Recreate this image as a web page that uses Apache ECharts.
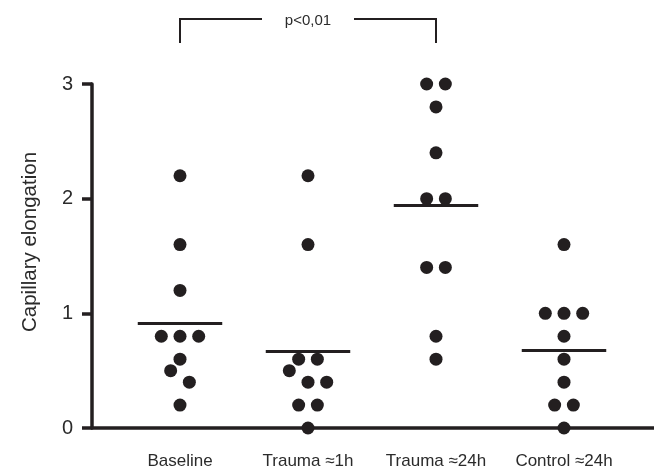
<!DOCTYPE html>
<html>
<head>
<meta charset="utf-8">
<script src="https://cdn.jsdelivr.net/npm/echarts@6/dist/echarts.min.js"></script>
<style>html,body{margin:0;padding:0;background:#fff}#c{width:654px;height:473px}</style>
</head>
<body>
<div id="c"></div>
<script>
// ---- data ----
const categories = ['Baseline', 'Trauma \u22481h', 'Trauma \u224824h', 'Control \u224824h'];
// values per group
const baselineValues   = [2.2, 1.6, 1.2, 0.8, 0.8, 0.8, 0.6, 0.5, 0.4, 0.2];
const trauma1hValues   = [2.2, 1.6, 0.6, 0.6, 0.5, 0.4, 0.4, 0.2, 0.2, 0.0];
const trauma24hValues  = [3.0, 3.0, 2.8, 2.4, 2.0, 2.0, 1.4, 1.4, 0.8, 0.6];
const control24hValues = [1.6, 1.0, 1.0, 1.0, 0.8, 0.6, 0.4, 0.2, 0.2, 0.0];
// horizontal jitter (in dot widths) for each point
const baselineJitter   = [0, 0, 0, -1, 0, 1, 0, -0.5, 0.5, 0];
const trauma1hJitter   = [0, 0, -0.5, 0.5, -1, 0, 1, -0.5, 0.5, 0];
const trauma24hJitter  = [-0.5, 0.5, 0, 0, -0.5, 0.5, -0.5, 0.5, 0, 0];
const control24hJitter = [0, -1, 0, 1, 0, 0, 0, -0.5, 0.5, 0];
const yTicks = [0, 1, 2, 3];
const pLabel = 'p<0,01';
const yTitle = 'Capillary elongation';

const groups = [
  {v: baselineValues, j: baselineJitter},
  {v: trauma1hValues, j: trauma1hJitter},
  {v: trauma24hValues, j: trauma24hJitter},
  {v: control24hValues, j: control24hJitter}
];
const DOT_STEP = 0.146;   // one dot width in x-axis units
const MEAN_HALF = 0.33;   // half length of mean bar in x-axis units
const INK = '#231f20';
const TXT = '#2b2b2b';
const FONT = '"Liberation Sans", Arial, sans-serif';

const points = [];
groups.forEach((g, gi) => {
  g.v.forEach((val, i) => points.push([gi + 1 + g.j[i] * DOT_STEP, val]));
});
const meanLines = groups.map((g, gi) => {
  const m = g.v.reduce((a, b) => a + b, 0) / g.v.length;
  return [{coord: [gi + 1 - MEAN_HALF, m]}, {coord: [gi + 1 + MEAN_HALF, m]}];
});

const chart = echarts.init(document.getElementById('c'), null, {renderer: 'canvas'});
chart.setOption({
  animation: false,
  backgroundColor: '#fff',
  grid: {left: 92, right: 0, top: 84, bottom: 45, containLabel: false},
  xAxis: {
    type: 'value', min: 0.3125, max: 4.703125,
    splitLine: {show: false},
    axisLine: {show: true, onZero: false, lineStyle: {color: INK, width: 3.5}},
    axisTick: {show: false},
    axisLabel: {
      show: true, customValues: [1, 2, 3, 4], margin: 25,
      color: TXT, fontSize: 17, fontFamily: FONT,
      formatter: v => categories[Math.round(v) - 1] || ''
    }
  },
  yAxis: {
    type: 'value', min: 0, max: 3, interval: 1,
    splitLine: {show: false},
    axisLine: {show: true, lineStyle: {color: INK, width: 3.5}},
    axisTick: {show: true, length: 10, lineStyle: {color: INK, width: 3.5}},
    axisLabel: {color: TXT, fontSize: 20, fontFamily: FONT, margin: 19,
      formatter: v => yTicks.indexOf(v) >= 0 ? String(v) : ''},
    name: yTitle, nameLocation: 'middle', nameRotate: 90, nameGap: 51,
    nameTextStyle: {color: TXT, fontSize: 20.5, fontFamily: FONT, padding: [0, 0, 0, 28]}
  },
  series: [{
    type: 'scatter',
    data: points,
    symbol: 'circle', symbolSize: 13,
    itemStyle: {color: INK, opacity: 1},
    clip: false,
    z: 3,
    markLine: {
      silent: true, symbol: ['none', 'none'],
      label: {show: false},
      lineStyle: {color: INK, width: 3, type: 'solid', opacity: 1},
      data: meanLines
    }
  }]
});

// significance bracket between Baseline and Trauma ~24h
const xL = chart.convertToPixel({xAxisIndex: 0}, 1);
const xR = chart.convertToPixel({xAxisIndex: 0}, 3);
const xMid = (xL + xR) / 2;
const topY = 19, botY = 43, gapHalf = 46;
chart.setOption({
  graphic: [
    {type: 'polyline', shape: {points: [[xL, botY], [xL, topY], [xMid - gapHalf, topY]]},
     style: {stroke: INK, lineWidth: 2, fill: null}},
    {type: 'polyline', shape: {points: [[xMid + gapHalf, topY], [xR, topY], [xR, botY]]},
     style: {stroke: INK, lineWidth: 2, fill: null}},
    {type: 'text', x: xMid, y: topY + 2,
     style: {text: pLabel, fill: TXT, font: '15px ' + FONT, textAlign: 'center', textVerticalAlign: 'middle'}}
  ]
});
</script>
</body>
</html>
